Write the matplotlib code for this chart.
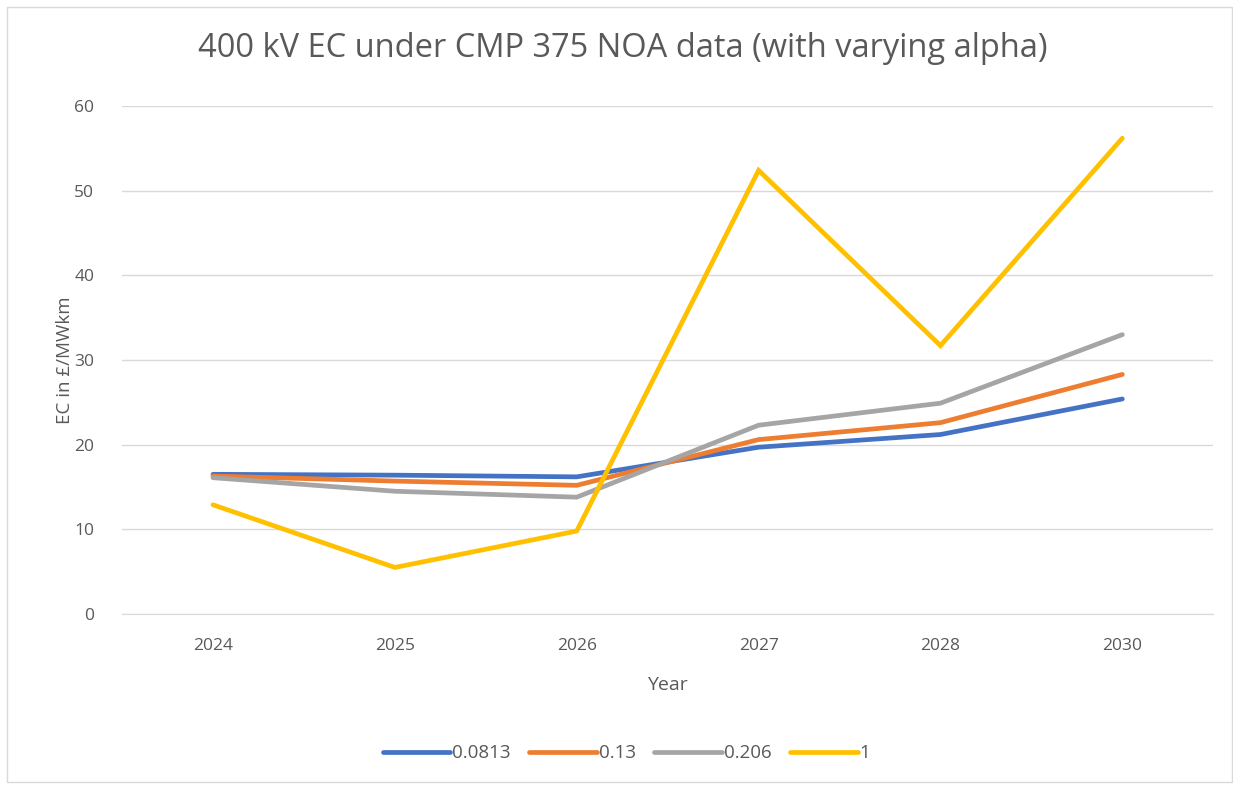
import matplotlib.pyplot as plt
from matplotlib.patches import Rectangle

years = ["2024", "2025", "2026", "2027", "2028", "2030"]
alpha_labels = ["0.0813", "0.13", "0.206", "1"]
ec_0813 = [16.5, 16.4, 16.2, 19.7, 21.2, 25.4]
ec_013 = [16.3, 15.7, 15.2, 20.6, 22.6, 28.3]
ec_0206 = [16.1, 14.5, 13.8, 22.3, 24.9, 33.0]
ec_1 = [12.9, 5.5, 9.8, 52.4, 31.7, 56.2]
colors = ["#4472C4", "#ED7D31", "#A5A5A5", "#FFC000"]

plt.rcParams['font.family'] = ['Open Sans', 'DejaVu Sans']
text_col = "#595959"

fig = plt.figure(figsize=(12.33, 7.87), dpi=100)
fig.patches.append(Rectangle((0.006, 0.006), 0.993, 0.985, transform=fig.transFigure,
                             fill=False, edgecolor="#D9D9D9", linewidth=1))
ax = fig.add_axes([0.099, 0.2198, 0.885, 0.6455])

x = list(range(len(years)))
for vals, lab, c in zip([ec_0813, ec_013, ec_0206, ec_1], alpha_labels, colors):
    ax.plot(x, vals, color=c, linewidth=3.4, label=lab, solid_capstyle="round",
            solid_joinstyle="miter")

ax.set_xlim(-0.5, len(years) - 0.5)
ax.set_ylim(0, 60)
ax.set_yticks(range(0, 61, 10))
ax.set_xticks(x)
ax.set_xticklabels(years)
ax.grid(axis="y", color="#D9D9D9", linewidth=1)
ax.set_axisbelow(True)
for s in ["top", "right", "left"]:
    ax.spines[s].set_visible(False)
ax.spines["bottom"].set_color("#D9D9D9")
ax.tick_params(length=0, labelsize=12.5, colors=text_col)
ax.tick_params(axis="x", pad=17)
ax.tick_params(axis="y", pad=20)

ax.set_xlabel("Year", fontsize=14, color=text_col, labelpad=16)
ax.set_ylabel("EC in £/MWkm", fontsize=13.5, color=text_col, labelpad=0)
fig.text(0.505, 0.938, "400 kV EC under CMP 375 NOA data (with varying alpha)",
         ha="center", va="center", fontsize=23.5, color=text_col)

fig.legend(loc="center", bbox_to_anchor=(0.508, 0.043), ncol=4, frameon=False,
           fontsize=13.5, labelcolor=text_col, handlelength=3.6, handletextpad=0.1,
           columnspacing=1.0)

fig.savefig("out.png", dpi=100)
